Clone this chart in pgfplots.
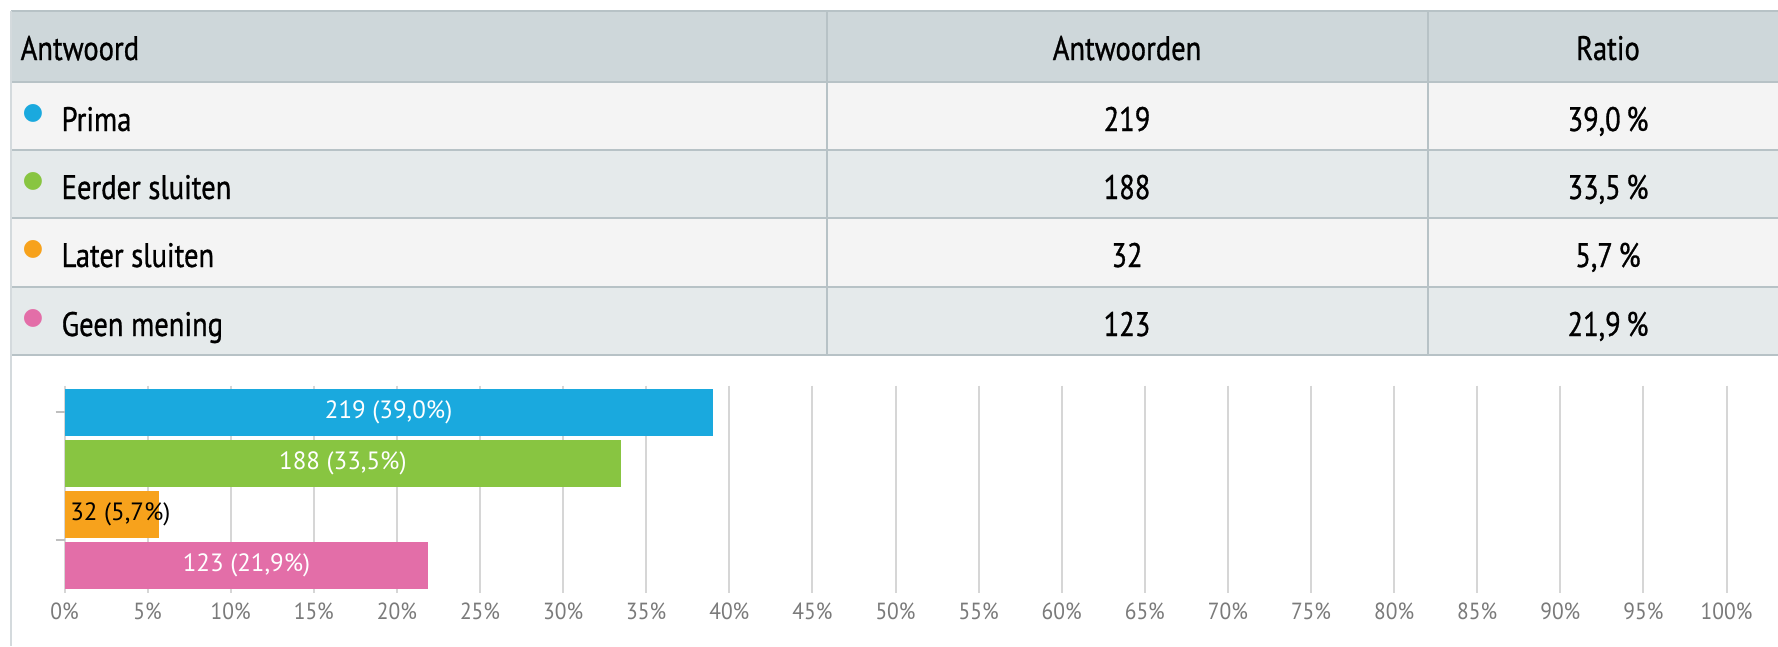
\documentclass[border=0pt]{standalone}
\usepackage{pgfplots}
\pgfplotsset{compat=1.18}
\usepackage{fontspec}
\setmainfont{PT Sans}
\newfontfamily\condfont[FakeStretch=0.84,FakeBold=0.8]{PT Sans}
\newfontfamily\tickfont[FakeStretch=0.92]{PT Sans}
\newfontfamily\dejavu{DejaVu Sans}
\definecolor{cblue}{HTML}{1AA9DE}
\definecolor{cgreen}{HTML}{88C541}
\definecolor{corange}{HTML}{F7A21C}
\definecolor{cpink}{HTML}{E36EA8}
\definecolor{hdr}{HTML}{CED7DA}
\definecolor{rowa}{HTML}{F4F4F4}
\definecolor{rowb}{HTML}{E5EAEB}
\definecolor{bord}{HTML}{B7C2C6}
\definecolor{gridc}{HTML}{D6D6D6}
\definecolor{tickc}{HTML}{7A7A7A}
\begin{document}
\begin{tikzpicture}[x=0.3pt,y=0.3pt]
\useasboundingbox (0,0) rectangle (1778,646);
\fill[white] (0,0) rectangle (1778,646);
% table backgrounds
\fill[hdr] (11,564) rectangle (1790,635);
\fill[rowa] (11,496) rectangle (1790,564);
\fill[rowb] (11,428) rectangle (1790,496);
\fill[rowa] (11,359) rectangle (1790,428);
\fill[rowb] (11,291) rectangle (1790,359);
\foreach \yy in {635,564,496,428,359,291}
  \draw[bord, line width=0.6pt] (11,\yy) -- (1790,\yy);
\draw[bord, line width=0.6pt] (827,635) -- (827,291);
\draw[bord, line width=0.6pt] (1428,635) -- (1428,291);
\draw[bord!60, line width=0.6pt] (11,635) -- (11,0);
% header
\begin{scope}[every node/.style={inner sep=0pt, font=\condfont\fontsize{10.2}{12}\selectfont}]
\node[anchor=base west] at (20,586) {Antwoord};
\node[anchor=base] at (1127,586) {Antwoorden};
\node[anchor=base] at (1608,586) {Ratio};
% rows
\node[anchor=base west] at (61,515) {Prima};
\node[anchor=base west] at (61,447) {Eerder sluiten};
\node[anchor=base west] at (61,379) {Later sluiten};
\node[anchor=base west] at (61,310) {Geen mening};
\node[anchor=base] at (1127,515) {219};
\node[anchor=base] at (1127,447) {188};
\node[anchor=base] at (1127,379) {32};
\node[anchor=base] at (1127,310) {123};
\node[anchor=base] at (1608,515) {39,0\,\%};
\node[anchor=base] at (1608,447) {33,5\,\%};
\node[anchor=base] at (1608,379) {5,7\,\%};
\node[anchor=base] at (1608,310) {21,9\,\%};
\end{scope}
\begin{scope}[every node/.style={inner sep=0pt, font=\dejavu\fontsize{7}{8}\selectfont}]
\node[text=cblue] at (33,533) {●};
\node[text=cgreen] at (33,465) {●};
\node[text=corange] at (33,397) {●};
\node[text=cpink] at (33,328) {●};
\end{scope}
% chart
\begin{axis}[
  at={(19.35pt,16.0pt)}, anchor=south west,
  width=498.6pt, height=62.1pt, scale only axis,
  xmin=0, xmax=100, ymin=-0.52, ymax=3.53, y dir=reverse,
  xbar, bar width=14.1pt, bar shift=0pt,
  axis line style={draw=none},
  xmajorgrids, grid style={gridc, line width=0.6pt},
  xtick={0,5,...,100},
  xticklabel={\pgfmathprintnumber[assume math mode=true]{\tick}\%},
  x tick style={draw=none},
  x tick label style={font=\tickfont\fontsize{7}{8}\selectfont, text=tickc, yshift=3.2pt},
  ytick={0,2.5}, yticklabels={}, ytick pos=left,
  y tick style={draw=gray!50, line width=0.5pt},
  tick align=outside, major tick length=2.7pt,
  point meta=explicit symbolic,
  visualization depends on={rawx \as \rawx},
  nodes near coords,
  every node near coord/.style={anchor=center, xshift={-\rawx*2.493pt},
     font=\fontsize{7.5}{8}\selectfont, text=white},
]
\addplot[fill=cblue, draw=none] coordinates {(39.0,0) [219 (39,0\%)]};
\addplot[fill=cgreen, draw=none] coordinates {(33.5,1) [188 (33,5\%)]};
\addplot[fill=corange, draw=none, every node near coord/.style={anchor=west, xshift={-\rawx*4.986pt-1.8pt}, font=\fontsize{7.5}{8}\selectfont, text=black}] coordinates {(5.7,2) [32 (5,7\%)]};
\addplot[fill=cpink, draw=none] coordinates {(21.9,3) [123 (21,9\%)]};
\end{axis}
\end{tikzpicture}
\end{document}
